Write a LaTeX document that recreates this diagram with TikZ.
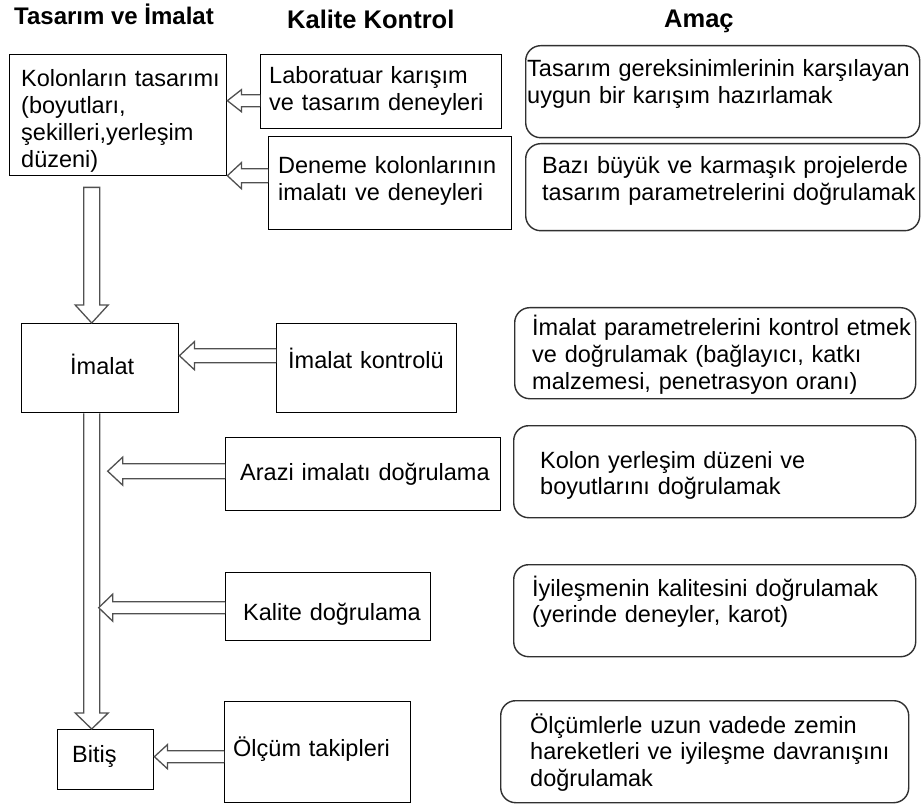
\documentclass[tikz,border=0pt]{standalone}
\usepackage{fontspec}
\setmainfont{Liberation Sans}
\usetikzlibrary{calc}
\newcommand\bodyfs{\fontsize{23.5}{26.8}\selectfont}
\newcommand\headfs{\fontsize{24}{28}\selectfont\bfseries}
\newcommand\headfsb{\fontsize{25.5}{28}\selectfont\bfseries}
\definecolor{arrowgray}{HTML}{505050}
\definecolor{rboxgray}{HTML}{303030}
\tikzset{
  sqbox/.style={draw=black, line width=1.4pt, fill=white, anchor=north west, inner sep=0pt},
  rbox/.style={draw=rboxgray, line width=1.4pt, rounded corners=15pt, fill=white, anchor=north west, inner sep=0pt},
  txt/.style={anchor=base west, inner sep=0pt, font=\bodyfs, text width=400pt, align=left},
  headtxt/.style={anchor=base west, inner sep=0pt, font=\headfs},
  headtxtb/.style={anchor=base west, inner sep=0pt, font=\headfsb},
  blockarr/.style={draw=arrowgray, line width=1.3pt, fill=white, line join=miter}
}
% left-pointing block arrow: #1 start (on a box edge), #2 tip, #3 shaft half width, #4 head half width, #5 head length
\newcommand\harrowL[5]{%
  \draw[blockarr] let \p1=(#1), \p2=(#2) in
    (\x1,\y1+#3) -- (\x2+#5,\y1+#3) -- (\x2+#5,\y1+#4) -- (\x2,\y1)
    -- (\x2+#5,\y1-#4) -- (\x2+#5,\y1-#3) -- (\x1,\y1-#3);}
\begin{document}
\begin{tikzpicture}[x=1pt,y=-1pt]
\useasboundingbox (0,0) rectangle (922,805);
\fill[white] (0,0) rectangle (922,805);

% headings
\node[headtxt] (h1) at (14,25) {Tasarım ve İmalat};
\node[headtxtb] (h2) at (287,29) {Kalite Kontrol};
\node[headtxtb] (h3) at (664,28) {Amaç};

% left column boxes
\node[sqbox, minimum width=217pt, minimum height=121pt] (k1) at (9,54) {};
\node[sqbox, minimum width=157pt, minimum height=89pt] (im) at (21,323) {};
\node[sqbox, minimum width=96pt, minimum height=60pt] (bt) at (57,729) {};

% middle column boxes
\node[sqbox, minimum width=241pt, minimum height=74pt] (lab) at (260,54) {};
\node[sqbox, minimum width=243pt, minimum height=93pt] (den) at (268,136) {};
\node[sqbox, minimum width=180pt, minimum height=89pt] (ik) at (276,323) {};
\node[sqbox, minimum width=275pt, minimum height=73pt] (ar) at (225,437) {};
\node[sqbox, minimum width=205pt, minimum height=68pt] (kd) at (225,572) {};
\node[sqbox, minimum width=186pt, minimum height=101pt] (ol) at (224,701) {};

% right column rounded boxes
\node[rbox, minimum width=394pt, minimum height=92pt] (r1) at (525,45) {};
\node[rbox, minimum width=394pt, minimum height=87pt] (r2) at (525,143) {};
\node[rbox, minimum width=401pt, minimum height=91pt] (r3) at (514,307) {};
\node[rbox, minimum width=402pt, minimum height=92pt] (r4) at (513,425) {};
\node[rbox, minimum width=402pt, minimum height=92pt] (r5) at (513,564) {};
\node[rbox, minimum width=408pt, minimum height=102pt] (r6) at (500,700) {};

% texts
\node[txt] (tk1) at (21,87) {Kolonların tasarımı\\(boyutları,\\şekilleri,yerleşim\\düzeni)};
\node[txt] (tim) at (70,374) {İmalat};
\node[txt] (tbt) at (72,762) {Bitiş};
\node[txt] (tlab) at (269,84) {Laboratuar karışım\\ve tasarım deneyleri};
\node[txt] (tden) at (278,174) {Deneme kolonlarının\\imalatı ve deneyleri};
\node[txt] (tik) at (288,369) {İmalat kontrolü};
\node[txt] (tar) at (240,480) {Arazi imalatı doğrulama};
\node[txt] (tkd) at (243,620) {Kalite doğrulama};
\node[txt] (tol) at (233,756) {Ölçüm takipleri};
\node[txt] (tr1) at (527,77) {Tasarım gereksinimlerinin karşılayan\\uygun bir karışım hazırlamak};
\node[txt] (tr2) at (542,174) {Bazı büyük ve karmaşık projelerde\\tasarım parametrelerini doğrulamak};
\node[txt] (tr3) at (532,336) {İmalat parametrelerini kontrol etmek\\ve doğrulamak (bağlayıcı, katkı\\malzemesi, penetrasyon oranı)};
\node[txt] (tr4) at (540,468) {Kolon yerleşim düzeni ve\\boyutlarını doğrulamak};
\node[txt] (tr5) at (532,596) {İyileşmenin kalitesini doğrulamak\\(yerinde deneyler, karot)};
\node[txt] (tr6) at (530,733) {Ölçümlerle uzun vadede zemin\\hareketleri ve iyileşme davranışını\\doğrulamak};

% vertical block arrows
\coordinate (d1s) at ([xshift=-26.5pt,yshift=-11pt]k1.south);
\coordinate (d1t) at (d1s |- im.north);
\draw[blockarr] let \p1=(d1s), \p2=(d1t) in
  (\x1-8pt,\y1) -- (\x1-8pt,\y2+18pt) -- (\x1-16.5pt,\y2+18pt) -- (\x2,\y2)
  -- (\x1+16.5pt,\y2+18pt) -- (\x1+8pt,\y2+18pt) -- (\x1+8pt,\y1) -- cycle;
\coordinate (sp) at (d1s |- im.south);
\coordinate (spt) at (sp |- bt.north);
\draw[blockarr] let \p1=(sp), \p2=(spt) in
  (\x1-8pt,\y1) -- (\x1-8pt,\y2+16pt) -- (\x1-16.5pt,\y2+16pt) -- (\x2,\y2)
  -- (\x1+16.5pt,\y2+16pt) -- (\x1+8pt,\y2+16pt) -- (\x1+8pt,\y1);

% horizontal block arrows
\coordinate (a1s) at ([yshift=-9pt]lab.west);
\coordinate (a1t) at (k1.east |- a1s);
\harrowL{a1s}{a1t}{6pt}{11pt}{14pt}
\coordinate (a2s) at ([yshift=7.5pt]den.west);
\coordinate (a2t) at (k1.east |- a2s);
\harrowL{a2s}{a2t}{7pt}{13pt}{14pt}
\coordinate (a3s) at ([yshift=12.5pt]ik.west);
\coordinate (a3t) at (im.east |- a3s);
\harrowL{a3s}{a3t}{7pt}{14pt}{15pt}
\coordinate (a4s) at ([yshift=3pt]ar.west);
\coordinate (a4t) at ([xshift=16pt]sp |- a4s);
\harrowL{a4s}{a4t}{7.5pt}{14pt}{15pt}
\coordinate (a5s) at ([yshift=-1pt]kd.west);
\coordinate (a5t) at ([xshift=7pt]sp |- a5s);
\harrowL{a5s}{a5t}{6pt}{13.5pt}{14pt}
\coordinate (a6s) at ([yshift=-4.5pt]ol.west);
\coordinate (a6t) at (bt.east |- a6s);
\harrowL{a6s}{a6t}{6pt}{12pt}{13pt}
\end{tikzpicture}
\end{document}
